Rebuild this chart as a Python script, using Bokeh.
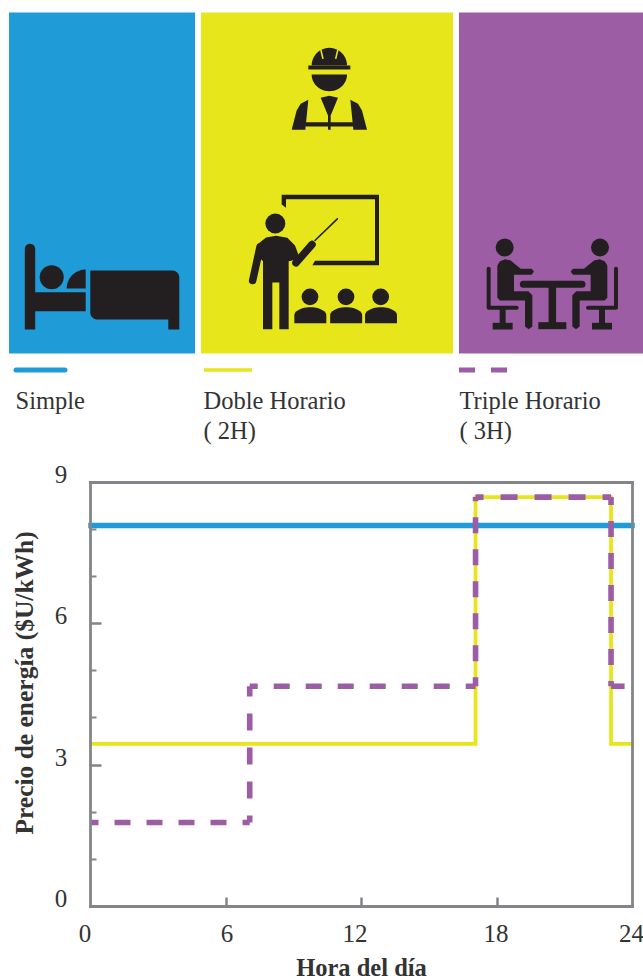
import math
from bokeh.core.properties import value
from bokeh.embed import file_html
from bokeh.layouts import column
from bokeh.models import ColumnDataSource, FixedTicker, LinearAxis, Range1d
from bokeh.plotting import figure
from bokeh.resources import INLINE

# ---------- data ----------
simple_hours = [-0.1, 24.1]
simple_price = [8.08, 8.08]
doble_hours = [0, 17.05, 17.05, 23.05, 23.05, 24]
doble_price = [3.45, 3.45, 8.68, 8.68, 3.45, 3.45]
triple_hours = [0, 7.05, 7.05, 17.05, 17.05, 23.05, 23.05, 23.65]
triple_price = [1.78, 1.78, 4.67, 4.67, 8.68, 8.68, 4.67, 4.67]
x_ticks = [6, 12, 18]
x_tick_labels = ["0", "6", "12", "18", "24"]
x_label_pos = [0, 6, 12, 18, 24]
y_ticks = [0, 3, 6, 9]
y_minor = [1, 2, 4, 5, 7, 8]
y_tick_labels = ["0", "3", "6", "9"]
legend_names = [["Simple"], ["Doble Horario", "( 2H)"], ["Triple Horario", "( 3H)"]]

BLUE, YELLOW, PURPLE = "#1F9BD7", "#E6E61A", "#9C5DA5"
INK, GREY, TXT = "#231F20", "#848589", "#333333"
SERIF = value("Liberation Serif")

W, H, SPLIT = 643, 980, 460

# ---------- top part: panels, icons, legend (page pixel coordinates) ----------
top = figure(width=W, height=SPLIT, x_range=Range1d(0.5, W + 0.5), y_range=Range1d(SPLIT, 0),
             x_axis_type=None, y_axis_type=None, toolbar_location=None,
             output_backend="svg", min_border=0, outline_line_color=None)
top.grid.visible = False
top.quad(left=[9, 201, 459], right=[195, 453, 643.5], top=[12, 12, 12], bottom=[353, 353, 353],
         fill_color=[BLUE, YELLOW, PURPLE], line_color=None)


def poly(pts, color=INK):
    top.patch([p[0] for p in pts], [p[1] for p in pts], fill_color=color, line_color=None)


def disc(cx, cy, r, color=INK):
    top.ellipse([cx], [cy], width=2 * r, height=2 * r, fill_color=color, line_color=None)


def stroke(pts, w, color=INK, cap="round"):
    top.line([p[0] for p in pts], [p[1] for p in pts], line_width=w, line_color=color,
             line_cap=cap, line_join="round")


def arc(cx, cy, rx, ry, a0, a1, n=24):
    return [(cx + rx * math.cos(math.radians(a0 + (a1 - a0) * i / n)),
             cy + ry * math.sin(math.radians(a0 + (a1 - a0) * i / n))) for i in range(n + 1)]


# bed
poly(arc(30, 248.5, 5.2, 5.2, 180, 360) + [(35.2, 329), (24.8, 329)])
disc(51.7, 276.7, 12)
poly([(85.7, 288)] + arc(85.7, 288, 19, 19, 180, 270))
poly([(35, 291.7), (85.7, 291.7), (85.7, 310.7), (35, 310.7)])
poly([(90.3, 270)] + arc(172.3, 277, 7, 7, 270, 360) + [(179.3, 329), (168.3, 329), (168.3, 319)]
     + arc(97.3, 312, 7, 7, 90, 180))

# worker
wz = lambda x, y: (200 + x / 3, 20 + y / 3)
poly(arc(*wz(388, 135), 17.7, 17.7, 180, 360))
poly([wz(325, 135), wz(451, 135), wz(451, 147), wz(325, 147)])
stroke([wz(362, 86), wz(369, 115)], 1.6, YELLOW, "butt")
stroke([wz(414, 86), wz(407, 115)], 1.6, YELLOW, "butt")
poly(arc(*wz(388, 162), 17.7, 16.7, 0, 180))
poly([wz(275, 328), wz(290, 270), wz(302, 250), wz(325, 238), wz(316, 328)])
poly([wz(501, 328), wz(486, 270), wz(474, 250), wz(451, 238), wz(460, 328)])
poly([wz(316, 305), wz(460, 305), wz(460, 318), wz(316, 318)])
poly([wz(362, 232), wz(388, 226), wz(414, 232), wz(392, 285), wz(392, 328), wz(384, 328), wz(384, 285)])

# teacher
poly([wz(245, 523), wz(537, 523), wz(537, 734), wz(337, 734), wz(345, 721), wz(525, 721),
      wz(525, 536), wz(258, 536), wz(258, 562), wz(245, 552)])
stroke([wz(345, 660), wz(412, 595)], 1.6)
stroke([wz(288, 727), wz(336, 672)], 7.5)
stroke([wz(180, 680), wz(158, 780)], 7.5)
disc(*wz(226, 609), 10)
poly([wz(172, 672), wz(198, 651), wz(228, 646), wz(262, 652), wz(285, 675), wz(300, 715), wz(266, 722),
      wz(266, 926), wz(238, 926), wz(238, 786), wz(217, 786), wz(217, 926), wz(189, 926), wz(189, 722),
      wz(172, 705)])
for cxz, czz in [(330, 331), (438, 438.5), (542, 543)]:
    disc(*wz(cxz, 829), 8.4)
    poly([wz(czz - 48, 908)] + arc(*wz(czz, 885), 16, 8.3, 180, 360) + [wz(czz + 48, 908)])

# meeting
tz = lambda x, y: (450 + x / 3, 220 + y / 3)
for sgn in (1, -1):
    m = lambda x, y: tz(x if sgn == 1 else 614 - x, y)
    disc(*m(164, 81), 9)
    poly([m(142, 135), m(150, 122), m(165, 116), m(182, 120), m(212, 145), m(245, 145), m(252, 153),
          m(245, 163), m(192, 163), m(192, 212), m(235, 212), m(247, 224), m(247, 318), m(236, 326),
          m(225, 318), m(225, 240), m(150, 240), m(142, 232)])
    stroke([m(116, 145), m(116, 262), m(200, 262)], 4)
    stroke([m(158, 262), m(158, 312)], 6, cap="butt")
    poly([m(128, 307), m(188, 307), m(188, 327), m(128, 327)])
stroke([tz(220, 191), tz(396, 191)], 7)
stroke([tz(307, 191), tz(307, 310)], 7.5, cap="butt")
poly([tz(265, 305), tz(349, 305), tz(349, 326), tz(265, 326)])

# legend keys and names
stroke([(16, 369.5), (65, 369.5)], 5, BLUE)
stroke([(204, 369.5), (252, 369.5)], 3.5, YELLOW, "butt")
top.line([459, 507], [369.5, 369.5], line_width=5, line_color=PURPLE, line_dash="16 16")
for xpos, names in zip([15.5, 203.5, 459.5], legend_names):
    for i, name in enumerate(names):
        top.text([xpos], [400 + 30 * i], text=[name], text_font=SERIF, text_font_size="24.5px",
                 text_color=TXT, text_baseline="middle", text_align="left")

# ---------- chart ----------
CH_H = H - SPLIT
sx = (632.5 - 90.5) / 24
sy = (906 - 481.5) / 9
ch = figure(width=W, height=CH_H,
            x_range=Range1d((0.5 - 90.5) / sx, (W + 0.5 - 90.5) / sx),
            y_range=Range1d((906 - H) / sy, (906 - SPLIT) / sy),
            x_axis_type=None, y_axis_type=None, toolbar_location=None,
            output_backend="svg", min_border=0, outline_line_color=None)
ch.grid.visible = False


def frame_axis(side, loc, ticker, major_in=11):
    ax = LinearAxis(fixed_location=loc, bounds=(0, 24) if side in ("below", "above") else (0, 9),
                    ticker=ticker, axis_line_color=GREY, axis_line_width=2.8, axis_line_cap="square",
                    major_tick_line_color=GREY, major_tick_line_width=2.5, major_tick_in=major_in, major_tick_out=0,
                    minor_tick_line_color=GREY, minor_tick_line_width=2, minor_tick_in=6, minor_tick_out=0,
                    major_label_text_color=None, major_label_text_font_size="1px")
    ch.add_layout(ax, side)
    return ax


frame_axis("below", 0, FixedTicker(ticks=x_ticks), major_in=9)
frame_axis("left", 0, FixedTicker(ticks=y_ticks, minor_ticks=y_minor))
frame_axis("above", 9, FixedTicker(ticks=[]))
frame_axis("right", 24, FixedTicker(ticks=[]))

ch.line(simple_hours, simple_price, line_color=BLUE, line_width=5.5)
ch.line(doble_hours, doble_price, line_color=YELLOW, line_width=3.8, line_join="miter")

# the dashes restart on every straight run of the stepped line
dash_styles = [("16 16", 8), ("17 17", 10), ("16 16", 8), ("16 16", 7), ("17 17", 9), ("16 16", 8), ("16 16", 0)]
for i, (dash, offset) in enumerate(dash_styles):
    ch.line(triple_hours[i:i + 2], triple_price[i:i + 2], line_color=PURPLE, line_width=5.6,
            line_dash=dash, line_dash_offset=offset)

xl = ColumnDataSource(dict(x=x_label_pos, y=[0] * 5, t=x_tick_labels, dx=[-5.5, 1, -6.5, -1, -1]))
ch.text("x", "y", text="t", source=xl, x_offset="dx", y_offset=27, text_font=SERIF,
        text_font_size="25px", text_color=TXT, text_align="center", text_baseline="middle")
yl = ColumnDataSource(dict(x=[0] * 4, y=y_ticks, t=y_tick_labels))
ch.text("x", "y", text="t", source=yl, x_offset=-29.5, y_offset=-8, text_font=SERIF,
        text_font_size="25px", text_color=TXT, text_align="center", text_baseline="middle")

ch.text([12], [0], text=["Hora del día"], x_offset=0, y_offset=61, text_font=SERIF, text_font_size="24.5px",
        text_font_style="bold", text_color=TXT, text_align="center", text_baseline="middle")
ch.text([0], [4.74], text=["Precio de energía ($U/kWh)"], x_offset=-66, y_offset=0, angle=math.pi / 2,
        text_font=SERIF, text_font_size="25.5px", text_font_style="bold", text_color=TXT,
        text_align="center", text_baseline="middle")

layout = column(top, ch, spacing=0)
open("out.html", "w").write(file_html(layout, INLINE))
